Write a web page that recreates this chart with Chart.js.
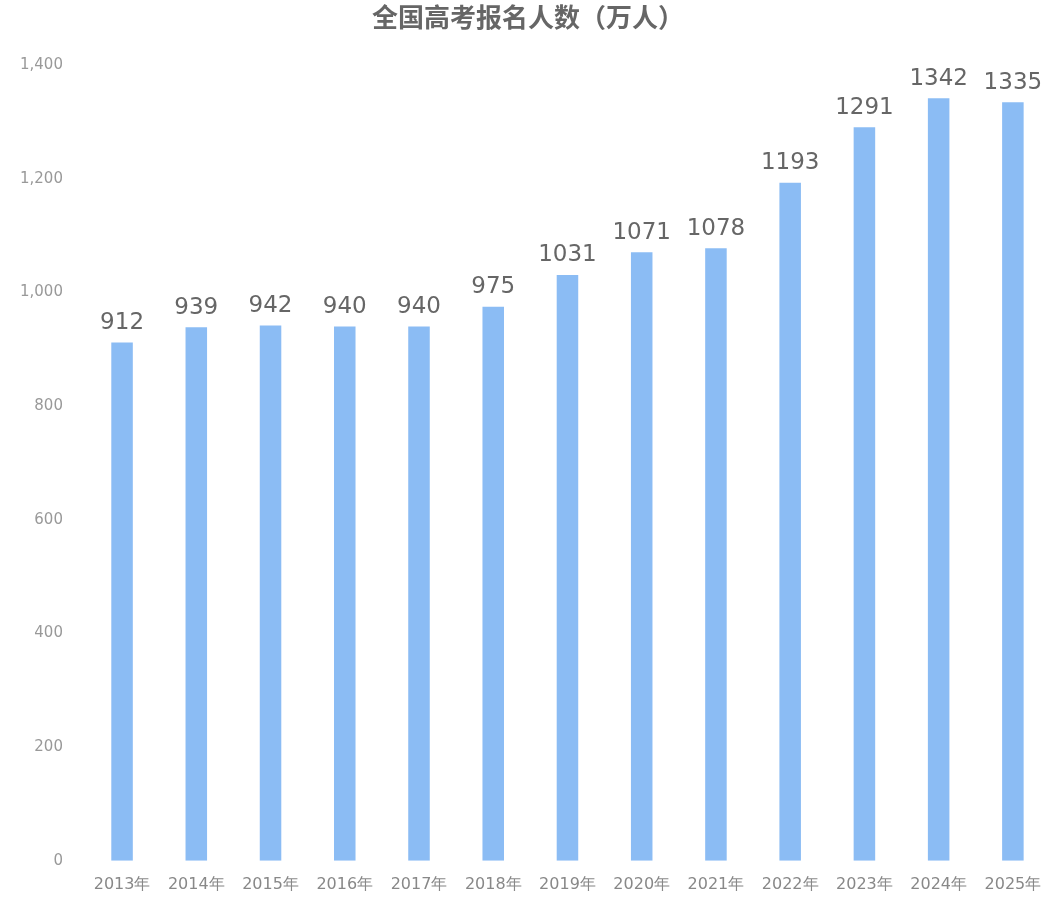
<!DOCTYPE html>
<html lang="zh">
<head>
<meta charset="UTF-8">
<script src="https://cdn.jsdelivr.net/npm/chart.js@4.4.1/dist/chart.umd.min.js"></script>
<style>
  html, body { margin: 0; padding: 0; background: #fff; }
  #wrap { width: 1054px; height: 906px; }
</style>
</head>
<body>
<div id="wrap"><canvas id="c"></canvas></div>
<script>
// data
const years = ['2013年', '2014年', '2015年', '2016年', '2017年', '2018年', '2019年',
  '2020年', '2021年', '2022年', '2023年', '2024年', '2025年'];
const applicants = [912, 939, 942, 940, 940, 975, 1031, 1071, 1078, 1193, 1291, 1342, 1335];

// draw value labels above each bar
const valueLabels = {
  id: 'valueLabels',
  afterDatasetsDraw(chart) {
    const ctx = chart.ctx;
    const meta = chart.getDatasetMeta(0);
    ctx.save();
    ctx.font = '23px "DejaVu Sans", sans-serif';
    ctx.fillStyle = '#666';
    ctx.textAlign = 'center';
    ctx.textBaseline = 'bottom';
    meta.data.forEach((bar, i) => {
      ctx.fillText(String(applicants[i]), bar.x, bar.y - 8);
    });
    ctx.restore();
  }
};

new Chart(document.getElementById('c'), {
  type: 'bar',
  data: {
    labels: years,
    datasets: [{
      data: applicants,
      backgroundColor: '#8bbcf4',
      barPercentage: 0.58,
      categoryPercentage: 0.5
    }]
  },
  options: {
    responsive: true,
    maintainAspectRatio: false,
    animation: false,
    layout: { padding: { top: 0, right: 4, left: 6, bottom: 6 } },
    plugins: {
      legend: { display: false },
      tooltip: { enabled: false },
      title: {
        display: true,
        text: '全国高考报名人数（万人）',
        color: '#666',
        font: { family: '"Noto Sans CJK SC", sans-serif', size: 26, weight: 'bold' },
        padding: { top: 2, bottom: 32 }
      }
    },
    scales: {
      x: {
        grid: { display: false },
        border: { display: false },
        ticks: { color: '#888', font: { family: '"DejaVu Sans", sans-serif', size: 16 }, maxRotation: 0, padding: 6 }
      },
      y: {
        min: 0, max: 1400,
        grid: { display: false },
        border: { display: false },
        ticks: { stepSize: 200, color: '#999', font: { family: '"DejaVu Sans", sans-serif', size: 15 }, padding: 14 }
      }
    }
  },
  plugins: [valueLabels]
});
</script>
</body>
</html>
